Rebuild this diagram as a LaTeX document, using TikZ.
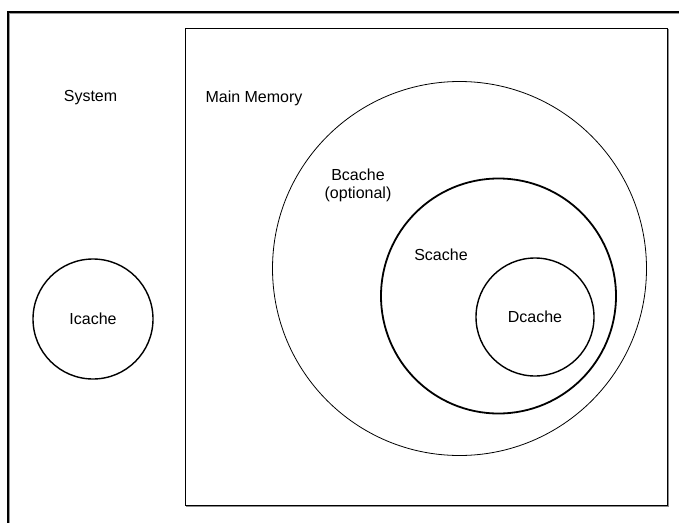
\documentclass[tikz,border=0pt]{standalone}
\usepackage{fontspec}
\setmainfont{Liberation Sans}
\begin{document}
\begin{tikzpicture}[x=1pt,y=-1pt,
  lbl/.style={inner sep=0pt,font=\fontsize{16}{18}\selectfont,align=center},
  ring/.style={circle,draw=black,inner sep=0pt,minimum size=#1},
  shadowline/.style={draw=black!45,line width=1pt}]
\useasboundingbox (0,0) rectangle (679,522);
% outer system frame (open at right and bottom)
\coordinate (sysBL) at (8.3,530);
\coordinate (sysTL) at (8.3,11.5);
\coordinate (sysTR) at (690,11.5);
\draw[black!40,line width=1pt] ([shift={(1.5,1.5)}]sysBL) -- ([shift={(1.5,1.5)}]sysTL) -- ([shift={(1.5,1.5)}]sysTR);
\draw[line width=2pt] (sysBL) -- (sysTL) -- (sysTR);
% main memory box
\coordinate (mmTL) at (185,28);
\coordinate (mmBR) at (667,505);
\draw[shadowline] ([shift={(1,1)}]mmTL) rectangle ([shift={(1,1)}]mmBR);
\draw[line width=1pt,fill=white] (mmTL) rectangle (mmBR);
% circles
\node[ring=374pt,line width=0.8pt] (bcache) at (459.5,268.5) {};
\node[ring=235pt,line width=1.8pt] (scache) at (498.5,296) {};
\node[ring=118pt,line width=1.4pt,lbl] (dcache) at (535,317) {Dcache};
\node[ring=120pt,line width=1.4pt,lbl] (icache) at (93,319) {Icache};
% labels
\node[lbl] (system) at (90.5,98) {System};
\node[lbl] (mainmem) at (254,98) {Main Memory};
\node[lbl] (bcachelbl) at (358,185) {Bcache\\(optional)};
\node[lbl] (scachelbl) at (441,254.5) {Scache};
\end{tikzpicture}
\end{document}
